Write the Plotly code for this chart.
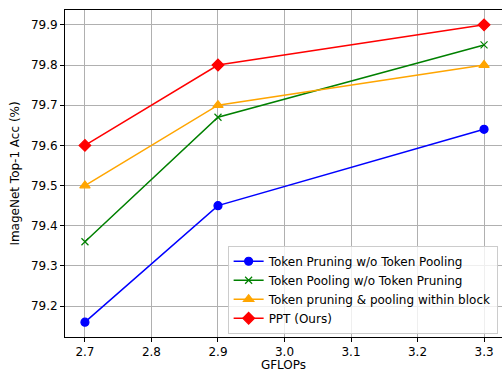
import plotly.graph_objects as go

gflops = [2.7, 2.9, 3.3]
names = ["Token Pruning w/o Token Pooling", "Token Pooling w/o Token Pruning",
         "Token pruning & pooling within block", "PPT (Ours)"]
acc_prune = [79.16, 79.45, 79.64]
acc_pool = [79.36, 79.67, 79.85]
acc_within = [79.50, 79.70, 79.80]
acc_ppt = [79.60, 79.80, 79.90]
x_ticks = [2.7, 2.8, 2.9, 3.0, 3.1, 3.2, 3.3]
y_ticks = [79.2, 79.3, 79.4, 79.5, 79.6, 79.7, 79.8, 79.9]

series = [
    (acc_prune, "blue", "circle", 8),
    (acc_pool, "green", "x-thin", 7),
    (acc_within, "orange", "triangle-up", 9),
    (acc_ppt, "red", "diamond", 9),
]

fig = go.Figure()
for (vals, col, sym, sz), nm in zip(series, names):
    fig.add_trace(go.Scatter(
        x=gflops, y=vals, name=nm, mode="lines+markers",
        line=dict(color=col, width=1.5),
        marker=dict(color=col, symbol=sym, size=sz,
                    line=dict(color=col, width=1.2)),
    ))

font = dict(family="DejaVu Sans", size=12, color="black")
fig.update_layout(
    width=502, height=372,
    margin=dict(l=65, r=0, t=10, b=35),
    paper_bgcolor="white", plot_bgcolor="white",
    font=font,
    showlegend=True,
    legend=dict(x=0.99, xanchor="right", y=0.01, yanchor="bottom",
                bgcolor="rgba(255,255,255,0.8)", bordercolor="#cccccc",
                borderwidth=1, font=dict(family="DejaVu Sans", size=12, color="black"),
                tracegroupgap=0, itemwidth=30),
)
fig.update_xaxes(
    range=[2.67, 3.327], tickvals=x_ticks, ticktext=[f"{v:.1f}" for v in x_ticks],
    showgrid=True, gridcolor="#b0b0b0", gridwidth=1,
    showline=True, linecolor="black", linewidth=1, mirror=True,
    ticks="outside", ticklen=4, tickcolor="black", automargin=False,
    title=dict(text="GFLOPs", font=font, standoff=1), zeroline=False,
)
fig.update_yaxes(
    range=[79.123, 79.937], tickvals=y_ticks, ticktext=[f"{v:.1f}" for v in y_ticks],
    showgrid=True, gridcolor="#b0b0b0", gridwidth=1,
    showline=True, linecolor="black", linewidth=1,
    ticks="outside", ticklen=4, tickcolor="black", automargin=False,
    title=dict(text="ImageNet Top-1 Acc (%)", font=font, standoff=8), zeroline=False,
)
fig.write_html("out.html")
